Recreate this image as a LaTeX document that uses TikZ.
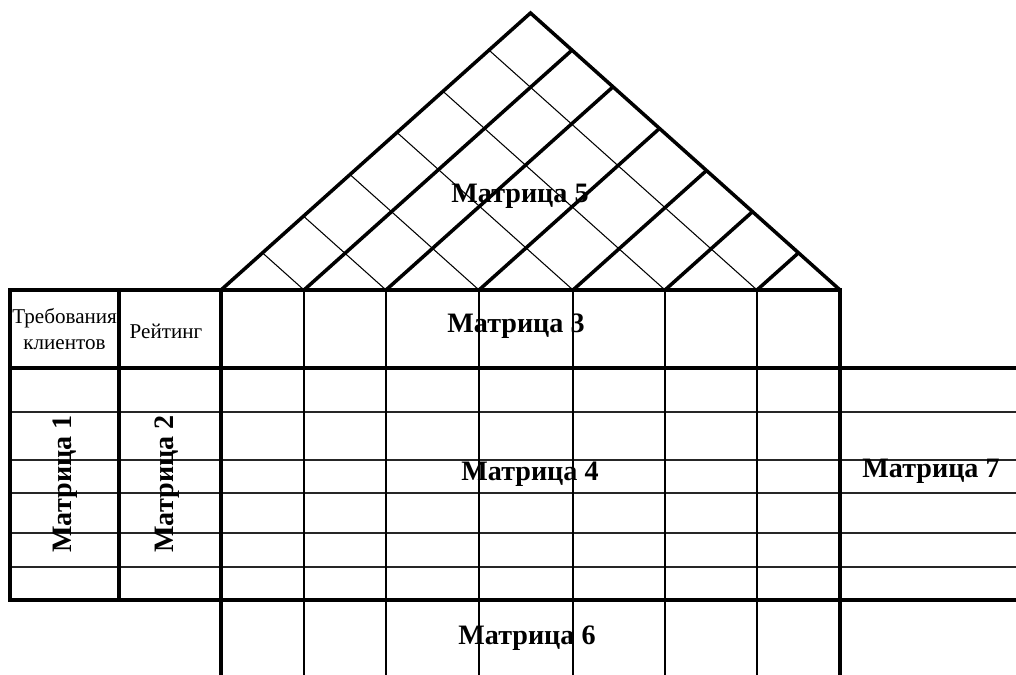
\documentclass[tikz,border=0pt]{standalone}
\usepackage{fontspec}
\setmainfont{Liberation Serif}
\usepackage{tikz}
\usetikzlibrary{calc}

\begin{document}
\begin{tikzpicture}[x=0.02cm, y=-0.02cm,
    heavy/.style={line width=2pt, line join=miter},
    light/.style={line width=0.6pt},
    rowline/.style={line width=0.8pt, black!85},
    title/.style={font=\fontsize{16}{18}\selectfont\bfseries, inner sep=0pt},
    head/.style={font=\fontsize{12}{14}\selectfont, inner sep=0pt}
  ]
  \useasboundingbox (0,0) rectangle (1016,675);

  % roof
  \coordinate (L) at (221,290);
  \coordinate (R) at (840,290);
  \coordinate (A) at (530.5,13);
  \foreach \b in {304,386,479,573,665,757} {
    \draw[light] (\b,290) -- ($(L)!{(\b-221)/619}!(A)$);
    \draw[heavy] (\b,290) -- ($(R)!{(840-\b)/619}!(A)$);
  }
  \draw[heavy] (L) -- (A) -- (R);

  % grid
  \foreach \y in {412,460,493,533,567}
    \draw[rowline] (10,\y) -- (1020,\y);
  \foreach \x in {304,386,479,573,665,757}
    \draw[light] (\x,290) -- (\x,680);
  \draw[heavy] (840,680) -- (840,290) -- (10,290) -- (10,600) -- (1020,600);
  \draw[heavy] (10,368) -- (1020,368);
  \draw[heavy] (119,290) -- (119,600);
  \draw[heavy] (221,290) -- (221,680);

  % labels
  \node[title] (m5) at (520,196) {Матрица 5};
  \node[title] (m3) at (516,326) {Матрица 3};
  \node[title] (m4) at (530,474) {Матрица 4};
  \node[title] (m6) at (527,638) {Матрица 6};
  \node[title] (m7) at (931,471) {Матрица 7};
  \node[title, rotate=90] (m1) at (65,484) {Матрица 1};
  \node[title, rotate=90] (m2) at (167,484) {Матрица 2};

  \begin{scope}
    \clip (10,290) rectangle (119,368);
    \node[head, anchor=west] (req) at (12,318) {Требования};
  \end{scope}
  \node[head] (cli) at (64.5,345) {клиентов};
  \node[head] (rate) at (166,331) {Рейтинг};
\end{tikzpicture}
\end{document}
